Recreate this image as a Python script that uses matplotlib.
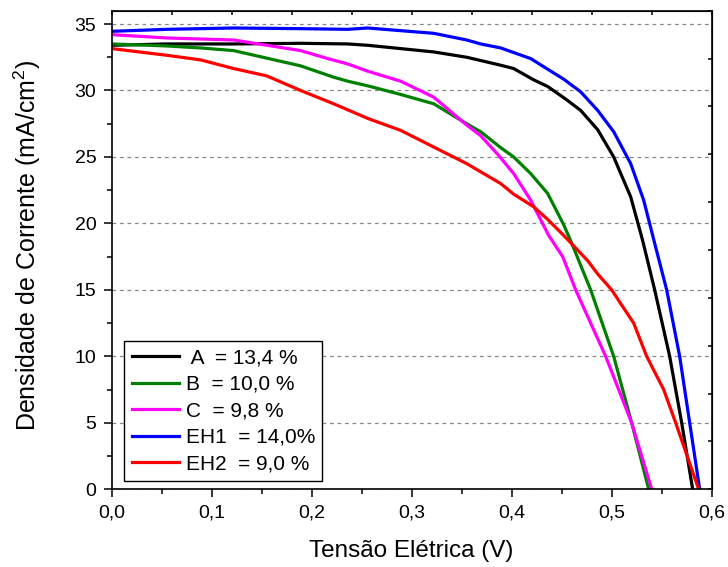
import matplotlib
matplotlib.use('Agg')
import matplotlib.pyplot as plt
from matplotlib.ticker import MultipleLocator, FuncFormatter

plt.rcParams['font.family'] = ['Liberation Sans', 'DejaVu Sans']
plt.rcParams['mathtext.default'] = 'regular'

# curvas J-V
v_a = [0.0, 0.055, 0.122, 0.189, 0.236, 0.256, 0.289, 0.322, 0.355, 0.389, 0.402, 0.422,
       0.436, 0.455, 0.469, 0.486, 0.502, 0.519, 0.531, 0.543, 0.558, 0.570, 0.581]
j_a = [33.4, 33.5, 33.5, 33.55, 33.5, 33.4, 33.15, 32.9, 32.5, 31.9, 31.65, 30.8,
       30.3, 29.3, 28.5, 27.05, 25.0, 22.0, 18.7, 15.0, 10.0, 5.0, 0.0]

v_b = [0.0, 0.055, 0.089, 0.122, 0.189, 0.222, 0.236, 0.256, 0.289, 0.322, 0.355, 0.369,
       0.389, 0.402, 0.419, 0.436, 0.452, 0.459, 0.479, 0.502, 0.520, 0.537]
j_b = [33.5, 33.35, 33.2, 33.0, 31.85, 31.0, 30.7, 30.35, 29.7, 29.0, 27.5, 26.9,
       25.7, 25.0, 23.75, 22.25, 19.9, 18.7, 15.0, 10.0, 5.0, 0.0]

v_c = [0.0, 0.055, 0.122, 0.189, 0.216, 0.236, 0.256, 0.289, 0.322, 0.355, 0.369, 0.386,
       0.402, 0.419, 0.437, 0.451, 0.464, 0.494, 0.520, 0.540]
j_c = [34.2, 33.95, 33.8, 33.0, 32.4, 32.0, 31.45, 30.7, 29.5, 27.4, 26.6, 25.2,
       23.75, 21.75, 19.1, 17.5, 15.0, 10.0, 5.0, 0.0]

v_eh1 = [0.0, 0.055, 0.122, 0.189, 0.236, 0.256, 0.322, 0.355, 0.369, 0.389, 0.419, 0.452,
         0.469, 0.486, 0.502, 0.519, 0.532, 0.543, 0.555, 0.568, 0.578, 0.588]
j_eh1 = [34.45, 34.6, 34.7, 34.65, 34.6, 34.7, 34.3, 33.8, 33.5, 33.2, 32.4, 30.85,
         29.9, 28.5, 26.9, 24.5, 21.75, 18.5, 15.0, 10.0, 5.0, 0.0]

v_eh2 = [0.0, 0.055, 0.089, 0.122, 0.155, 0.189, 0.222, 0.256, 0.289, 0.322, 0.355, 0.389,
         0.402, 0.422, 0.436, 0.452, 0.476, 0.486, 0.500, 0.522, 0.535, 0.552, 0.564, 0.587]
j_eh2 = [33.15, 32.65, 32.3, 31.65, 31.1, 30.0, 29.0, 27.9, 27.0, 25.75, 24.5, 23.0,
         22.2, 21.25, 20.3, 19.1, 17.2, 16.2, 15.0, 12.5, 10.0, 7.5, 5.0, 0.0]

labels = [' A  = 13,4 %', 'B  = 10,0 %', 'C  = 9,8 %', 'EH1  = 14,0%', 'EH2  = 9,0 %']
colors = ['black', '#008000', '#ff00ff', '#0000ff', '#ff0000']

fig = plt.figure(figsize=(7.28, 5.67), dpi=100)
ax = fig.add_axes([0.1534, 0.137, 0.8242, 0.8441])

series = [(v_a, j_a), (v_b, j_b), (v_c, j_c), (v_eh1, j_eh1), (v_eh2, j_eh2)]
for (v, j), lab, c in zip(series, labels, colors):
    ax.plot(v, j, color=c, lw=2.3, label=lab)

ax.set_xlim(0, 0.6)
ax.set_ylim(0, 36)

ax.xaxis.set_major_locator(MultipleLocator(0.1))
ax.xaxis.set_minor_locator(MultipleLocator(0.05))
ax.yaxis.set_major_locator(MultipleLocator(5))
ax.yaxis.set_minor_locator(MultipleLocator(2.5))
ax.xaxis.set_major_formatter(FuncFormatter(lambda x, p: ('%.1f' % x).replace('.', ',')))

ax.tick_params(which='major', direction='out', length=6, width=1.1, labelsize=14, pad=5)
ax.tick_params(which='minor', direction='out', length=3.5, width=1.1)

for s in ax.spines.values():
    s.set_linewidth(1.2)

ax.yaxis.grid(True, which='major', ls=(0, (3, 3)), color='#888888', lw=0.9)

# eixos de cima e da direita com ticks para dentro
top = ax.secondary_xaxis('top')
top.xaxis.set_major_locator(MultipleLocator(0.06))
top.tick_params(direction='in', length=3, width=1.1, labeltop=False)
right = ax.secondary_yaxis('right')
right.yaxis.set_major_locator(MultipleLocator(3.6))
right.tick_params(direction='in', length=3, width=1.1, labelright=False)

ax.set_xlabel('Tensão Elétrica (V)', fontsize=17.5)
ax.xaxis.set_label_coords(0.5, -0.106)
ax.set_ylabel('Densidade de Corrente (mA/cm$^2$)', fontsize=18)
ax.yaxis.set_label_coords(-0.115, 0.51)

leg = ax.legend(loc='lower left', bbox_to_anchor=(0.021, 0.018), borderaxespad=0,
                fontsize=15, handlelength=2.3, labelspacing=0.36, fancybox=False,
                edgecolor='black', framealpha=1, handletextpad=0.3, borderpad=0.35)
leg.get_frame().set_linewidth(1.0)

fig.savefig('out.png', dpi=100)
